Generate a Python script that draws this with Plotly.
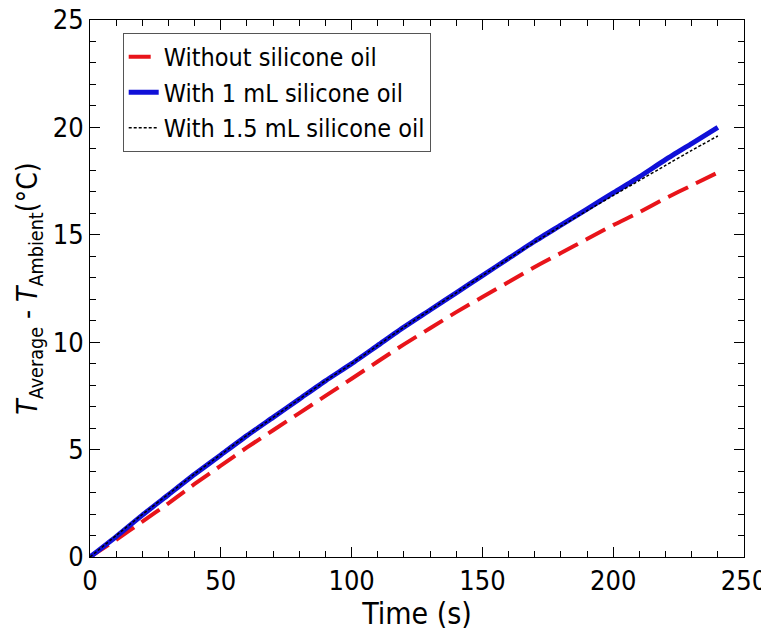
import plotly.graph_objects as go

time_s = [0, 10, 20, 30, 40, 50, 60, 70, 80, 90, 100, 110, 120, 130, 140, 150,
          160, 170, 180, 190, 200, 210, 220, 230, 240]
without_oil = [0.0, 0.8, 1.65, 2.5, 3.4, 4.25, 5.1, 5.9, 6.7, 7.5, 8.3, 9.1, 9.9, 10.65,
               11.4, 12.1, 12.8, 13.5, 14.15, 14.8, 15.45, 16.05, 16.7, 17.3, 17.9]
with_1ml = [0.0, 0.95, 1.95, 2.9, 3.85, 4.75, 5.65, 6.5, 7.35, 8.2, 9.0, 9.85, 10.7, 11.5,
            12.3, 13.1, 13.9, 14.7, 15.45, 16.2, 16.95, 17.7, 18.5, 19.25, 20.0]
with_15ml = [0.0, 1.0, 1.98, 2.93, 3.87, 4.77, 5.66, 6.5, 7.35, 8.2, 9.0, 9.85, 10.7, 11.5,
             12.3, 13.1, 13.88, 14.66, 15.4, 16.12, 16.83, 17.53, 18.23, 18.93, 19.6]

font_family = "DejaVu Sans Condensed, DejaVu Sans, sans-serif"

fig = go.Figure()
fig.add_trace(go.Scatter(x=time_s, y=without_oil, mode="lines", name="Without silicone oil",
                         line=dict(color="#e8141a", width=4, dash="22px,9px",
                                   shape="spline", smoothing=0.6)))
fig.add_trace(go.Scatter(x=time_s, y=with_1ml, mode="lines", name="With 1 mL silicone oil",
                         line=dict(color="#1010d8", width=5, shape="spline", smoothing=0.6)))
fig.add_trace(go.Scatter(x=time_s, y=with_15ml, mode="lines", name="With 1.5 mL silicone oil",
                         line=dict(color="black", width=1.5, dash="3px,2px",
                                   shape="spline", smoothing=0.6)))

axis_common = dict(showline=True, linecolor="black", linewidth=1, mirror="ticks",
                   ticks="inside", ticklen=10, tickcolor="black", showgrid=False,
                   zeroline=False, automargin=False, ticklabeloverflow="allow",
                   tickfont=dict(size=27, color="black", family=font_family))

fig.update_xaxes(range=[0, 250], dtick=50, tick0=0,
                 minor=dict(dtick=10, ticks="inside", ticklen=6, tickcolor="black", showgrid=False),
                 title=dict(text="Time (s)", font=dict(size=30, color="black", family=font_family), standoff=4),
                 **axis_common)
fig.update_yaxes(range=[0, 25], dtick=5, tick0=0,
                 minor=dict(dtick=1, ticks="inside", ticklen=6, tickcolor="black", showgrid=False),
                 title=dict(text="<i>T</i><sub>Average</sub> - <i>T</i><sub>Ambient</sub>(\u00b0C)",
                            font=dict(size=28, color="black", family=font_family), standoff=6),
                 **axis_common)

fig.update_layout(
    width=761, height=633,
    margin=dict(l=82, r=25, t=12, b=84),
    paper_bgcolor="white", plot_bgcolor="white",
    showlegend=True,
    legend=dict(x=0.05, y=0.976, xanchor="left", yanchor="top",
                bordercolor="#555555", borderwidth=1, bgcolor="white",
                font=dict(size=25, color="black", family=font_family),
                tracegroupgap=0, itemwidth=30),
)

fig.write_html("out.html")
